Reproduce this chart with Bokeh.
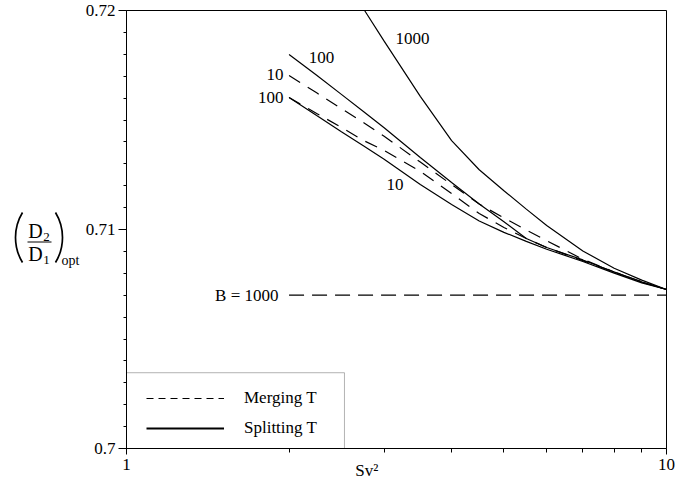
import math
from bokeh.plotting import figure
from bokeh.layouts import row
from bokeh.models import (Range1d, FixedTicker, Label, Legend, LegendItem,
                          BoxAnnotation)
from bokeh.core.properties import value
from bokeh.embed import file_html
from bokeh.resources import INLINE

# ---------------- data ----------------
sv2 = [2.0, 2.25, 2.5, 2.75, 3.0, 3.5, 4.0, 4.5, 5.0, 5.5, 6.0, 7.0, 8.0, 9.0, 10.0]
split_100 = [0.71799, 0.71704, 0.71617, 0.71538, 0.71465, 0.71329, 0.71215, 0.71116,
             0.71035, 0.70959, 0.70918, 0.70861, 0.70806, 0.70760, 0.70726]
split_10 = [0.71603, 0.71520, 0.71446, 0.71381, 0.71321, 0.71205, 0.71114, 0.71039,
            0.70987, 0.70946, 0.70910, 0.70854, 0.70801, 0.70756, 0.70726]
merge_10 = [0.71703, 0.71624, 0.71552, 0.71488, 0.71426, 0.71308, 0.71205, 0.71116,
            0.71053, 0.70998, 0.70949, 0.70864, 0.70806, 0.70762, 0.70726]
merge_100 = [0.71603, 0.71530, 0.71466, 0.71406, 0.71361, 0.71265, 0.71164, 0.71073,
             0.71009, 0.70959, 0.70918, 0.70858, 0.70806, 0.70760, 0.70726]
sv2_1000 = [2.76, 3.0, 3.5, 4.0, 4.5, 5.0, 5.5, 6.0, 7.0, 8.0, 9.0, 10.0]
split_1000 = [0.72, 0.71860, 0.71608, 0.71406, 0.71273, 0.71177, 0.71093, 0.71018,
              0.70902, 0.70823, 0.70769, 0.70726]
sv2_merge_1000 = [2.0, 10.0]
merge_1000 = [0.7070, 0.7070]

x_ticks = [1, 10]
x_tick_labels = ["1", "10"]
x_minor = [2, 3, 4, 5, 6, 7, 8, 9]
y_ticks = [0.70, 0.71, 0.72]
y_tick_labels = ["0.7", "0.71", "0.72"]
y_minor = [0.701, 0.702, 0.703, 0.704, 0.705, 0.706, 0.707, 0.708, 0.709,
           0.711, 0.712, 0.713, 0.714, 0.715, 0.716, 0.717, 0.718, 0.719]

FONT = "Liberation Serif"
LEFT_W = 82

p = figure(frame_width=540, frame_height=438, x_axis_type="log",
           x_range=Range1d(1, 10), y_range=Range1d(0.70, 0.72),
           output_backend="svg", toolbar_location=None,
           min_border_left=125 - LEFT_W, min_border_right=15,
           min_border_top=10, min_border_bottom=32,
           background_fill_color="white", border_fill_color="white")

p.xgrid.visible = False
p.ygrid.visible = False
p.outline_line_color = "black"
p.outline_line_width = 1

# axes
xa = p.xaxis[0]
xa.ticker = FixedTicker(ticks=x_ticks, minor_ticks=x_minor)
xa.major_label_overrides = {t: l for t, l in zip(x_ticks, x_tick_labels)}
xa.major_tick_out = 6
xa.major_tick_in = 0
xa.minor_tick_out = 4
xa.minor_tick_in = 0
xa.major_label_standoff = 4
xa.axis_line_color = "black"
xa.major_tick_line_color = "black"
xa.minor_tick_line_color = "black"
xa.major_label_text_font = FONT
xa.major_label_text_font_size = "17px"
xa.major_label_text_color = "black"
xa.axis_label = "Sv\u00b2\u2003\u2003\u2003\u00a0\u00a0"
xa.axis_label_standoff = -12
xa.axis_label_text_font = FONT
xa.axis_label_text_font_size = "17px"
xa.axis_label_text_font_style = "normal"
xa.axis_label_text_color = "black"

ya = p.yaxis[0]
ya.ticker = FixedTicker(ticks=y_ticks, minor_ticks=y_minor)
ya.major_label_overrides = {t: l for t, l in zip(y_ticks, y_tick_labels)}
ya.major_tick_out = 8
ya.major_tick_in = 0
ya.minor_tick_out = 3
ya.minor_tick_in = 0
ya.major_label_standoff = 3
ya.axis_line_color = "black"
ya.major_tick_line_color = "black"
ya.minor_tick_line_color = "black"
ya.major_label_text_font = FONT
ya.major_label_text_font_size = "17px"
ya.major_label_text_color = "black"

# curves
LW = 1.2
DASH = "13 9"
p.line(sv2_1000, split_1000, line_color="black", line_width=LW)
p.line(sv2, split_100, line_color="black", line_width=LW)
p.line(sv2, split_10, line_color="black", line_width=LW)
p.line(sv2, merge_10, line_color="black", line_width=LW, line_dash=DASH)
p.line(sv2, merge_100, line_color="black", line_width=LW, line_dash=DASH)
p.line(sv2_merge_1000, merge_1000, line_color="black", line_width=LW, line_dash="15 8")


def lab(x, y, text, size="17px", align="center", baseline="middle"):
    p.add_layout(Label(x=x, y=y, text=text,
                       text_font=FONT, text_font_size=size, text_align=align,
                       text_baseline=baseline, text_color="black"))


# curve labels
lab(3.386, 0.71872, "1000")
lab(2.296, 0.71785, "100")
lab(1.953, 0.71708, "10", align="right")
lab(1.953, 0.71603, "100", align="right")
lab(3.143, 0.71205, "10")
lab(1.912, 0.7070, "B = 1000", align="right")

# legend
r_m = p.line([0.5, 0.6], [0.69, 0.69], line_color="black", line_width=1.2,
             line_dash="7 5")
r_s = p.line([0.5, 0.6], [0.69, 0.69], line_color="black", line_width=2.2)
legend = Legend(items=[LegendItem(label="Merging T", renderers=[r_m]),
                       LegendItem(label="Splitting T", renderers=[r_s])],
                location=(20, 10), margin=0, padding=0, spacing=10,
                glyph_width=78, glyph_height=20, label_standoff=20,
                label_height=20,
                label_text_font=FONT, label_text_font_size="17px",
                label_text_color="black",
                border_line_color=None, background_fill_alpha=0)
p.add_layout(legend)
p.add_layout(BoxAnnotation(left=1, right=2.533, bottom=0.70, top=0.70346,
                           fill_color=None, line_color="black", line_width=1))

# ---------------- left strip holding the y-axis title (D2/D1)_opt ----------------
lf = figure(frame_width=LEFT_W, frame_height=480,
            x_range=Range1d(0, LEFT_W), y_range=Range1d(480, 0),
            x_axis_location=None, y_axis_location=None,
            output_backend="svg", toolbar_location=None,
            min_border_left=0, min_border_right=0, min_border_top=0,
            min_border_bottom=0, outline_line_color=None,
            background_fill_color="white", border_fill_color="white")
lf.xgrid.visible = False
lf.ygrid.visible = False


def ltext(x, y, t, size):
    lf.text(x=[x], y=[y], text=[t], text_font=value(FONT),
            text_font_size=value(size), text_align="center",
            text_baseline="middle", text_color="black")


# tall thin delimiters of the title (drawn as arcs, like TeX \left( \right))
R = 48.1
half = math.asin(25 / R)
lf.arc(x=[15 + R], y=[227], radius=R, start_angle=math.pi - half,
       end_angle=math.pi + half, line_color="black", line_width=1.7)
lf.arc(x=[62 - R], y=[227], radius=R, start_angle=-half,
       end_angle=half, line_color="black", line_width=1.7)

ltext(35, 220.5, "D", "20px")
ltext(46, 226, "2", "13px")
ltext(35, 243.5, "D", "20px")
ltext(46, 249, "1", "13px")
ltext(70, 250, "opt", "14px")
lf.line(x=[27, 51], y=[231.5, 231.5], line_color="black", line_width=1)

layout = row(lf, p, spacing=0)
open("out.html", "w").write(file_html(layout, INLINE))
